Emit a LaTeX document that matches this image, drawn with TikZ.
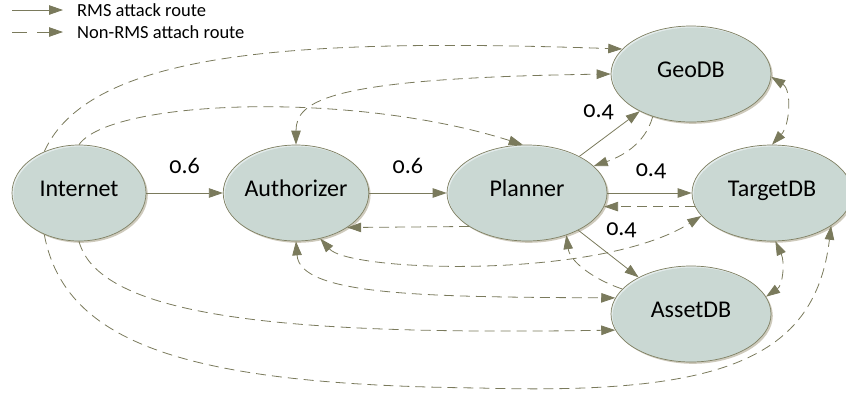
\documentclass[tikz,border=0pt]{standalone}
\usepackage{fontspec}
\setmainfont[Numbers=OldStyle]{Carlito}
\usetikzlibrary{arrows.meta,shapes.geometric,shadows,calc}
\definecolor{fillc}{RGB}{202,216,211}
\definecolor{hilc}{RGB}{228,236,236}
\definecolor{linec}{RGB}{128,128,98}
\definecolor{edgec}{RGB}{122,122,92}
\definecolor{shadowc}{RGB}{206,202,188}
\tikzset{
  db/.style={ellipse, draw=linec, line width=0.7pt, fill=fillc, inner sep=0pt,
    minimum width=160pt, minimum height=96pt, text height=0.64em, text depth=0pt,
    font=\fontsize{24}{28}\selectfont,
    drop shadow={shadow xshift=1.8pt, shadow yshift=-1.8pt, fill=shadowc, opacity=1},
    path picture={
      \fill[hilc] (path picture bounding box.south west) rectangle (path picture bounding box.north east);
      \fill[fillc] let \p1=(path picture bounding box.north east), \p2=(path picture bounding box.south west) in
        ([xshift=1.6pt,yshift=-1.6pt]path picture bounding box.center) ellipse [x radius={(\x1-\x2)/2}, y radius={(\y1-\y2)/2}];
    }},
  sys/.style={db, minimum width=134pt},
  rms/.style={draw=edgec, line width=0.8pt, -{Triangle[length=14pt,width=9.5pt]}},
  nonrms/.style={rms, dash pattern=on 10pt off 6pt},
  both/.style={nonrms, {Triangle[length=14pt,width=9.5pt]}-{Triangle[length=14pt,width=9.5pt]}},
  lbl/.style={font=\fontsize{24}{28}\selectfont, inner sep=0pt, text height=0.5em, text depth=0pt},
  legend/.style={font=\fontsize{18.5}{22}\selectfont, inner sep=0pt, anchor=west},
}
\begin{document}
\begin{tikzpicture}[x=1pt,y=-1pt]
\useasboundingbox (0,0) rectangle (846,397);
% nodes
\node[sys] (Internet) at (79,193) {Internet};
\node[sys] (Authorizer) at (296,193) {Authorizer};
\node[db] (Planner) at (527,193) {Planner};
\node[db] (GeoDB) at (691,74) {GeoDB};
\node[db] (TargetDB) at (772,193) {TargetDB};
\node[db] (AssetDB) at (691,314) {AssetDB};
% RMS routes
\draw[rms] (Internet.east) -- node[lbl, yshift=22pt] {0.6} (Authorizer.west);
\draw[rms] (Authorizer.east) -- node[lbl, yshift=22pt] {0.6} (Planner.west);
\draw[rms] (Planner.35) -- node[lbl, xshift=-11pt, yshift=19pt] {0.4} (GeoDB.216);
\draw[rms] (Planner.east) -- node[lbl, xshift=1.5pt, yshift=19pt] {0.4} (TargetDB.west);
\draw[rms] (Planner.-36) -- node[lbl, xshift=13pt, yshift=21pt] {0.4} (AssetDB.145);
% non-RMS routes
\draw[nonrms] (Internet.130) .. controls (90,50) and (300,38) .. (GeoDB.160);
\draw[nonrms] (Internet.north) .. controls (110,100) and (350,90) .. (Planner.95);
\draw[both] (Authorizer.north) .. controls (296,100) and (330,78) .. (GeoDB.west);
\draw[nonrms] (GeoDB.-132) .. controls (645,145) and (620,157) .. (Planner.22);
\draw[nonrms] (TargetDB.190) -- (Planner.-10);
\draw[nonrms] (Planner.210) -- (Authorizer.-34);
\draw[both] (Authorizer.-62) .. controls (350,272) and (600,280) .. (TargetDB.198);
\draw[nonrms] (AssetDB.160) .. controls (595,280) and (570,262) .. (Planner.-47);
\draw[both] (Authorizer.south) .. controls (300,295) and (420,297) .. (AssetDB.168);
\draw[nonrms] (Internet.south) .. controls (100,320) and (300,335) .. (AssetDB.192);
\draw[nonrms] (Internet.-130) .. controls (65,345) and (190,385) .. (480,388)
   .. controls (720,395) and (815,360) .. (TargetDB.-29);
\draw[both] (GeoDB.-2) .. controls (792,90) and (790,125) .. (TargetDB.north);
\draw[both] (TargetDB.-86) .. controls (785,262) and (783,285) .. (AssetDB.13);
% legend
\coordinate (ls1) at (12,10);
\coordinate (le1) at (63,10);
\node[legend] (lt1) at (77,10) {RMS attack route};
\draw[rms] (ls1) -- (le1);
\coordinate (ls2) at (12,32);
\coordinate (le2) at (63,32);
\node[legend] (lt2) at (77,32) {Non-RMS attach route};
\draw[rms, dash pattern=on 15pt off 10pt] (ls2) -- (le2);
\end{tikzpicture}
\end{document}
